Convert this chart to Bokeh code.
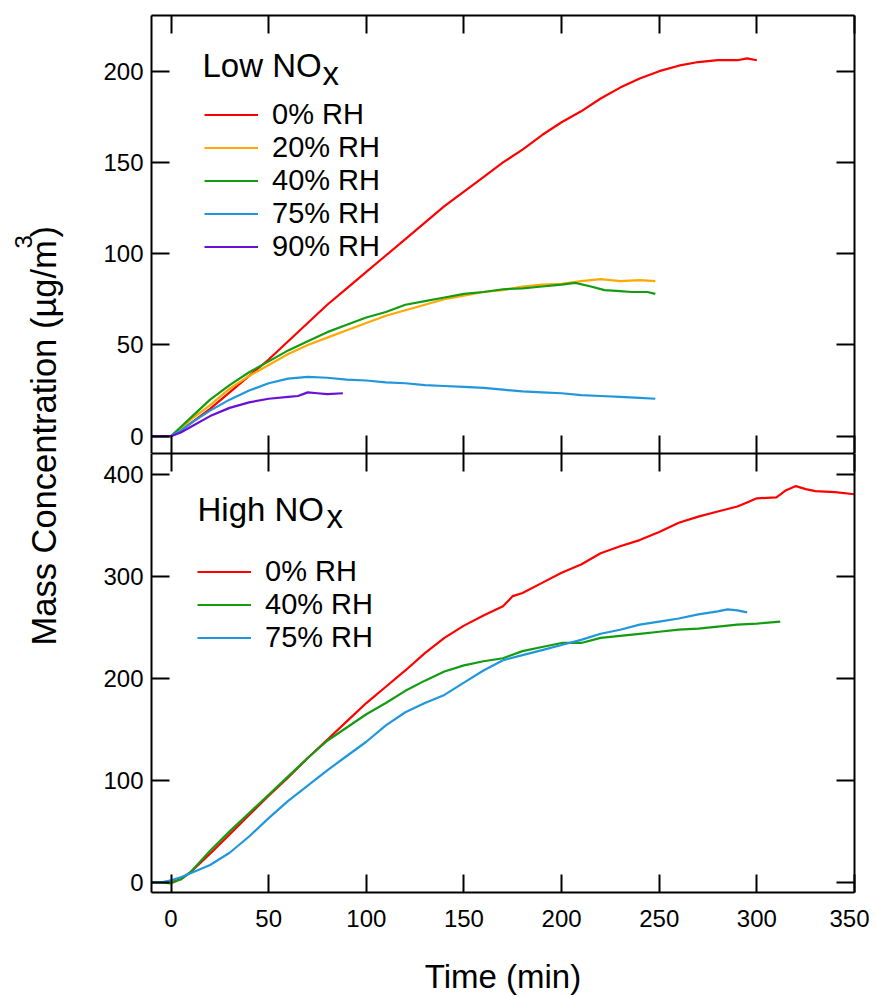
import numpy as np
from bokeh.plotting import figure
from bokeh.models import LinearAxis, FixedTicker, Range1d, Legend, LegendItem, Label
from bokeh.layouts import row, column
from bokeh.embed import file_html
from bokeh.resources import INLINE

FONT = "Liberation Sans"

# ---------------- data ----------------
x_ticks = [0, 50, 100, 150, 200, 250, 300, 350]
low_ticks = [0, 50, 100, 150, 200]
high_ticks = [0, 100, 200, 300, 400]

# Low NOx
low_t_0 = [-10, -5, 0, 5, 10, 20, 30, 40, 50, 60, 70, 80, 90, 100, 110, 120, 130, 140, 150, 160,
           170, 180, 190, 200, 210, 220, 230, 240, 250, 260, 270, 280, 290, 295, 300]
low_v_0 = [0, 0, 0, 3, 7, 15, 24, 33, 42, 52, 62, 72, 81, 90, 99, 108, 117, 126, 134, 142,
           150, 157, 165, 172, 178, 185, 191, 196, 200, 203, 205, 206, 206, 207, 206]
low_t_20 = [-10, -5, 0, 5, 10, 20, 30, 40, 50, 60, 70, 80, 90, 100, 110, 120, 130, 140, 150, 160,
            170, 180, 190, 200, 210, 220, 230, 240, 248]
low_v_20 = [0, 0, 0, 4, 9, 17, 26, 33, 39, 45, 50, 54, 58, 62, 66, 69, 72, 75, 77, 79,
            80, 82, 83, 83.5, 85, 86, 85, 85.5, 85]
low_t_40 = [-10, -5, 0, 5, 10, 20, 30, 40, 50, 60, 70, 80, 90, 100, 110, 120, 130, 140, 150, 160,
            170, 180, 190, 200, 207, 215, 222, 230, 236, 244, 248]
low_v_40 = [0, 0, 0, 5, 10, 20, 28, 35, 41, 47, 52, 57, 61, 65, 68, 72, 74, 76, 78, 79,
            80.5, 81, 82, 83, 84, 82, 80, 79.5, 79, 79, 78]
low_t_75 = [-10, -5, 0, 5, 10, 20, 30, 40, 50, 60, 70, 80, 90, 100, 110, 120, 130, 140, 150, 160,
            170, 180, 190, 200, 210, 220, 230, 240, 248]
low_v_75 = [0, 0, 0, 3, 7, 14, 20, 25, 29, 31.5, 32.5, 32, 31, 30.5, 29.5, 29, 28, 27.5, 27, 26.5,
            25.5, 24.5, 24, 23.5, 22.5, 22, 21.5, 21, 20.5]
low_t_90 = [-10, -5, 0, 5, 10, 20, 30, 40, 50, 60, 65, 70, 75, 80, 88]
low_v_90 = [0, 0, 0, 2, 5, 11, 15.5, 18.5, 20.5, 21.5, 22, 24, 23.5, 23, 23.5]

# High NOx
high_t_0 = [-10, -5, 0, 5, 10, 20, 30, 40, 50, 60, 70, 80, 90, 100, 110, 120, 130, 140, 150, 160,
            170, 175, 180, 190, 200, 210, 220, 230, 240, 250, 260, 270, 280, 290, 295, 300, 310,
            315, 320, 325, 330, 340, 350]
high_v_0 = [0, 0, 0, 3, 10, 28, 47, 66, 85, 103, 122, 140, 158, 176, 192, 208, 225, 240, 252, 262,
            271, 281, 284, 294, 304, 312, 323, 330, 336, 344, 353, 359, 364, 369, 373, 377, 378,
            385, 389, 386, 384, 383, 381]
high_t_40 = [-10, -5, 0, 5, 10, 20, 30, 40, 50, 60, 70, 80, 90, 100, 110, 120, 130, 140, 150, 160,
             170, 180, 190, 200, 210, 220, 230, 240, 250, 260, 270, 280, 290, 300, 312]
high_v_40 = [0, 0, -1, 3, 10, 31, 50, 68, 86, 104, 122, 139, 152, 165, 176, 188, 198, 207, 213, 217,
             220, 227, 231, 235, 235, 240, 242, 244, 246, 248, 249, 251, 253, 254, 256]
high_t_75 = [-10, -5, 0, 5, 10, 20, 30, 40, 50, 60, 70, 80, 90, 100, 110, 120, 130, 140, 150, 160,
             170, 180, 190, 200, 210, 220, 230, 240, 250, 260, 270, 280, 285, 290, 295]
high_v_75 = [0, 0, 2, 5, 9, 17, 29, 45, 63, 80, 95, 110, 124, 138, 154, 167, 176, 184, 196, 208,
             218, 223, 228, 233, 238, 244, 248, 253, 256, 259, 263, 266, 268, 267, 265]

low_series = [("0% RH", low_t_0, low_v_0, "#ff0000"),
              ("20% RH", low_t_20, low_v_20, "#ffa800"),
              ("40% RH", low_t_40, low_v_40, "#129c12"),
              ("75% RH", low_t_75, low_v_75, "#2196dc"),
              ("90% RH", low_t_90, low_v_90, "#6a10d6")]
high_series = [("0% RH", high_t_0, high_v_0, "#ff0000"),
               ("40% RH", high_t_40, high_v_40, "#129c12"),
               ("75% RH", high_t_75, high_v_75, "#2196dc")]

LW = 2.2
TICK_FS = "24px"
TITLE_FS = "33px"


def style_axis(ax, ticks, labels=True):
    ax.ticker = FixedTicker(ticks=ticks)
    ax.axis_line_width = 2
    ax.axis_line_color = "black"
    ax.major_tick_line_width = 2
    ax.major_tick_line_color = "black"
    ax.major_tick_in = 18
    ax.major_tick_out = 0
    ax.minor_tick_line_color = None
    ax.major_label_text_font = FONT
    if labels:
        ax.major_label_text_font_size = TICK_FS
        ax.major_label_text_color = "black"
    else:
        ax.major_label_text_font_size = "1px"
        ax.major_label_text_color = None
        ax.major_label_standoff = 0


def make_panel(height, yr, yticks, mb_top, mb_bottom, x_labels):
    p = figure(width=801, height=height, x_range=Range1d(-10, 350), y_range=Range1d(*yr),
               output_backend="svg", toolbar_location=None,
               x_axis_location=None, y_axis_location=None,
               min_border_left=83, min_border_right=15,
               min_border_top=mb_top, min_border_bottom=mb_bottom,
               outline_line_color=None, background_fill_color="white",
               border_fill_color="white")
    left = LinearAxis()
    style_axis(left, yticks, True)
    left.major_label_standoff = 8
    p.add_layout(left, "left")
    right = LinearAxis()
    style_axis(right, yticks, False)
    p.add_layout(right, "right")
    above = LinearAxis()
    style_axis(above, x_ticks, False)
    p.add_layout(above, "above")
    below = LinearAxis()
    style_axis(below, x_ticks, x_labels)
    p.add_layout(below, "below")
    p.xgrid.visible = False
    p.ygrid.visible = False
    return p, below


# top panel frame: page y 15..453 ; bottom panel frame: page y 453..893
top, _ = make_panel(453, (-9.5, 230.5), low_ticks, 15, 0, False)
bot, bot_below = make_panel(544, (-10, 421), high_ticks, 0, 104, True)
bot_below.major_label_standoff = 17
bot_below.axis_label = "Time (min)"
bot_below.axis_label_text_font = FONT
bot_below.axis_label_text_font_size = TITLE_FS
bot_below.axis_label_text_font_style = "normal"
bot_below.axis_label_text_color = "black"
bot_below.axis_label_standoff = 28


def add_lines(p, series, loc):
    items = []
    for name, t, v, c in series:
        r = p.line(t, v, line_color=c, line_width=LW)
        items.append(LegendItem(label=name, renderers=[r]))
    lg = Legend(items=items, location=loc, glyph_width=54, glyph_height=33, label_height=33,
                spacing=0, padding=0, margin=0, label_standoff=14,
                label_text_font=FONT, label_text_font_size="29px", label_text_color="black",
                border_line_color=None, background_fill_alpha=0)
    p.add_layout(lg)


add_lines(top, low_series, (53, 190))
add_lines(bot, high_series, (46, 238))


def txt(p, x, y, s, size=TITLE_FS, angle=0.0):
    p.add_layout(Label(x=x, y=y, x_units="screen", y_units="screen", text=s, angle=angle,
                       text_font=FONT, text_font_size=size, text_baseline="middle",
                       text_align="left", text_color="black"))


txt(top, 51, 388, "Low NO")
txt(top, 171, 380, "x")
txt(bot, 46, 383, "High NO")
txt(bot, 175, 376, "x")

# y-axis title spanning both panels
ylab = figure(width=68, height=997, output_backend="svg", toolbar_location=None,
              x_axis_location=None, y_axis_location=None, min_border=0,
              outline_line_color=None, x_range=Range1d(0, 1), y_range=Range1d(0, 1),
              border_fill_color="white", background_fill_color="white")
ylab.xgrid.visible = False
ylab.ygrid.visible = False
txt(ylab, 43, 352, "Mass Concentration (\u00b5g/m", "34.5px", angle=np.pi / 2)
txt(ylab, 23, 749, "3", "24px", angle=np.pi / 2)
txt(ylab, 43, 760, ")", "34.5px", angle=np.pi / 2)

layout = row(ylab, column(top, bot))
open("out.html", "w").write(file_html(layout, INLINE))
